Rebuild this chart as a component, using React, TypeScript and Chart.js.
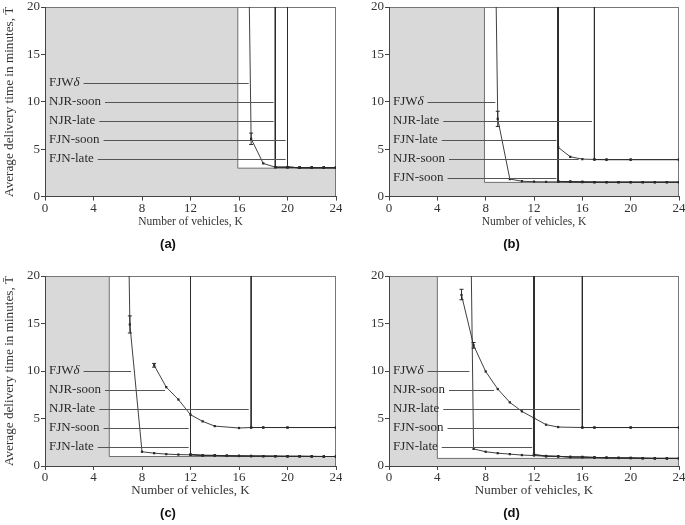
import React, { useEffect, useRef } from 'react';
import { Chart, registerables } from 'chart.js';

Chart.register(...registerables);

// Off-scale value: configuration infeasible (curve comes down from above the axis)
const INF = 100;

const xTicksMax = 24;
const yTicksMax = 20;

// ---------- Panel (a) ----------
const aFjwK = [16, 17, 18, 19, 20, 21, 22, 23, 24];
const aFjwT = [INF, 6.1, 3.5, 3.1, 3.1, 3.05, 3.05, 3.05, 3.05];
const aNjrSoonK = [19, 19, 20, 21, 22, 23, 24];
const aNjrSoonT = [INF, 3.1, 3.1, 3.05, 3.05, 3.05, 3.05];
const aNjrLateK = [19, 19, 20, 21, 22, 23, 24];
const aNjrLateT = [INF, 3.1, 3.1, 3.05, 3.05, 3.05, 3.05];
const aFjnSoonK = [20, 20, 21, 22, 23, 24];
const aFjnSoonT = [INF, 3.1, 3.05, 3.05, 3.05, 3.05];
const aFjnLateK = [20, 20, 21, 22, 23, 24];
const aFjnLateT = [INF, 3.1, 3.05, 3.05, 3.05, 3.05];
const aLabels = ['FJWδ', 'NJR-soon', 'NJR-late', 'FJN-soon', 'FJN-late'];
const aLabelT = [12, 10, 8, 6, 4];
const aLabelEnd = [16.8, 18.85, 18.85, 19.85, 19.85];
const aErrK = [17];
const aErrLo = [5.5];
const aErrHi = [6.7];

// ---------- Panel (b) ----------
const bFjwK = [8, 9, 10, 11, 12, 13, 14, 15, 16, 17, 18, 19, 20, 21, 22, 23, 24];
const bFjwT = [INF, 8.2, 1.85, 1.62, 1.57, 1.55, 1.55, 1.55, 1.53, 1.52, 1.52, 1.52, 1.52, 1.52, 1.52, 1.52, 1.52];
const bNjrSoonK = [14, 14, 15, 16, 17, 18, 20, 24];
const bNjrSoonT = [INF, 5.2, 4.2, 3.95, 3.92, 3.9, 3.9, 3.9];
const bNjrLateK = [17, 17, 18, 20, 24];
const bNjrLateT = [INF, 3.9, 3.9, 3.9, 3.9];
const bFjnSoonK = [14, 14, 15, 16, 17, 18, 19, 20, 21, 22, 23, 24];
const bFjnSoonT = [INF, 1.6, 1.57, 1.55, 1.53, 1.52, 1.52, 1.52, 1.52, 1.52, 1.52, 1.52];
const bFjnLateK = [14, 14, 15, 16, 17, 18, 19, 20, 21, 22, 23, 24];
const bFjnLateT = [INF, 1.6, 1.57, 1.55, 1.53, 1.52, 1.52, 1.52, 1.52, 1.52, 1.52, 1.52];
const bLabels = ['FJWδ', 'NJR-late', 'FJN-late', 'NJR-soon', 'FJN-soon'];
const bLabelT = [10, 8, 6, 4, 2];
const bLabelEnd = [8.8, 16.8, 13.85, 15.7, 13.85];
const bErrK = [9];
const bErrLo = [7.4];
const bErrHi = [9.0];

// ---------- Panel (c) ----------
const cFjwK = [6, 7, 8, 9, 10, 11, 12, 13, 14, 15, 16, 17, 18, 19, 20, 21, 22, 23, 24];
const cFjwT = [INF, 14.9, 1.5, 1.35, 1.25, 1.2, 1.18, 1.12, 1.1, 1.08, 1.06, 1.05, 1.04, 1.03, 1.02, 1.02, 1.01, 1.0, 1.0];
const cNjrSoonK = [9, 10, 11, 12, 13, 14, 16, 17, 18, 20, 24];
const cNjrSoonT = [10.6, 8.3, 7.0, 5.4, 4.7, 4.2, 4.0, 4.05, 4.05, 4.05, 4.05];
const cNjrLateK = [17, 17, 18, 20, 24];
const cNjrLateT = [INF, 4.05, 4.05, 4.05, 4.05];
const cFjnSoonK = [12, 12, 13, 14, 15, 16, 17, 18, 19, 20, 21, 22, 23, 24];
const cFjnSoonT = [INF, 1.2, 1.12, 1.12, 1.08, 1.06, 1.05, 1.04, 1.03, 1.02, 1.02, 1.01, 1.0, 1.0];
const cFjnLateK = [12, 12, 13, 14, 15, 16, 17, 18, 19, 20, 21, 22, 23, 24];
const cFjnLateT = [INF, 1.2, 1.12, 1.12, 1.08, 1.06, 1.05, 1.04, 1.03, 1.02, 1.02, 1.01, 1.0, 1.0];
const cLabels = ['FJWδ', 'NJR-soon', 'NJR-late', 'FJN-soon', 'FJN-late'];
const cLabelT = [10, 8, 6, 4, 2];
const cLabelEnd = [7.1, 9.9, 16.8, 11.85, 11.85];
const cErrK = [7, 9];
const cErrLo = [14.0, 10.4];
const cErrHi = [15.8, 10.8];

// ---------- Panel (d) ----------
const dFjwK = [6, 7, 8, 9, 10, 11, 12, 13, 14, 15, 16, 17, 18, 19, 20, 21, 22, 23, 24];
const dFjwT = [INF, 1.8, 1.5, 1.35, 1.25, 1.15, 1.1, 1.02, 1.0, 0.95, 0.92, 0.9, 0.87, 0.85, 0.83, 0.82, 0.81, 0.8, 0.8];
const dNjrSoonK = [6, 7, 8, 9, 10, 11, 12, 13, 14, 16, 17, 20, 24];
const dNjrSoonT = [18.0, 12.7, 9.95, 8.1, 6.7, 5.75, 5.05, 4.35, 4.1, 4.05, 4.05, 4.05, 4.05];
const dNjrLateK = [16, 16, 17, 20, 24];
const dNjrLateT = [INF, 4.05, 4.05, 4.05, 4.05];
const dFjnSoonK = [12, 12, 13, 14, 15, 16, 17, 18, 19, 20, 21, 22, 23, 24];
const dFjnSoonT = [INF, 1.2, 1.05, 1.02, 0.95, 0.95, 0.9, 0.87, 0.85, 0.85, 0.82, 0.8, 0.8, 0.8];
const dFjnLateK = [12, 12, 13, 14, 15, 16, 17, 18, 19, 20, 21, 22, 23, 24];
const dFjnLateT = [INF, 1.2, 1.05, 1.02, 0.95, 0.95, 0.9, 0.87, 0.85, 0.85, 0.82, 0.8, 0.8, 0.8];
const dLabels = ['FJWδ', 'NJR-soon', 'NJR-late', 'FJN-soon', 'FJN-late'];
const dLabelT = [10, 8, 6, 4, 2];
const dLabelEnd = [6.65, 8.7, 15.8, 11.85, 11.85];
const dErrK = [6, 7];
const dErrLo = [17.5, 12.4];
const dErrHi = [18.6, 13.0];

// Shaded (unreachable) region limits: white where K >= shadeK and T >= shadeT
const shadeK = [15.9, 7.9, 5.3, 4.0];
const shadeT = [3.0, 1.5, 1.0, 0.8];

const captions = ['(a)', '(b)', '(c)', '(d)'];
const xTitle = 'Number of vehicles, K';
const yTitle = 'Average delivery time in minutes, T̄';

const SERIF = "'Liberation Serif', 'DejaVu Serif', serif";
const INK = '#2a2a2a';

type Series = { name: string; k: number[]; t: number[] };
type Spec = {
  idx: number;
  series: Series[];
  labels: string[];
  labelT: number[];
  labelEnd: number[];
  errK: number[];
  errLo: number[];
  errHi: number[];
  showYTitle: boolean;
  left: number;
  top: number;
  width: number;
  height: number;
  bottomRow: boolean;
};

const specs: Spec[] = [
  {
    idx: 0,
    series: [
      { name: 'FJWδ', k: aFjwK, t: aFjwT },
      { name: 'NJR-soon', k: aNjrSoonK, t: aNjrSoonT },
      { name: 'NJR-late', k: aNjrLateK, t: aNjrLateT },
      { name: 'FJN-soon', k: aFjnSoonK, t: aFjnSoonT },
      { name: 'FJN-late', k: aFjnLateK, t: aFjnLateT },
    ],
    labels: aLabels, labelT: aLabelT, labelEnd: aLabelEnd,
    errK: aErrK, errLo: aErrLo, errHi: aErrHi,
    showYTitle: true, left: 0, top: 0, width: 342, height: 262, bottomRow: false,
  },
  {
    idx: 1,
    series: [
      { name: 'FJWδ', k: bFjwK, t: bFjwT },
      { name: 'NJR-soon', k: bNjrSoonK, t: bNjrSoonT },
      { name: 'NJR-late', k: bNjrLateK, t: bNjrLateT },
      { name: 'FJN-soon', k: bFjnSoonK, t: bFjnSoonT },
      { name: 'FJN-late', k: bFjnLateK, t: bFjnLateT },
    ],
    labels: bLabels, labelT: bLabelT, labelEnd: bLabelEnd,
    errK: bErrK, errLo: bErrLo, errHi: bErrHi,
    showYTitle: false, left: 344, top: 0, width: 341, height: 262, bottomRow: false,
  },
  {
    idx: 2,
    series: [
      { name: 'FJWδ', k: cFjwK, t: cFjwT },
      { name: 'NJR-soon', k: cNjrSoonK, t: cNjrSoonT },
      { name: 'NJR-late', k: cNjrLateK, t: cNjrLateT },
      { name: 'FJN-soon', k: cFjnSoonK, t: cFjnSoonT },
      { name: 'FJN-late', k: cFjnLateK, t: cFjnLateT },
    ],
    labels: cLabels, labelT: cLabelT, labelEnd: cLabelEnd,
    errK: cErrK, errLo: cErrLo, errHi: cErrHi,
    showYTitle: true, left: 0, top: 269, width: 342, height: 256, bottomRow: true,
  },
  {
    idx: 3,
    series: [
      { name: 'FJWδ', k: dFjwK, t: dFjwT },
      { name: 'NJR-soon', k: dNjrSoonK, t: dNjrSoonT },
      { name: 'NJR-late', k: dNjrLateK, t: dNjrLateT },
      { name: 'FJN-soon', k: dFjnSoonK, t: dFjnSoonT },
      { name: 'FJN-late', k: dFjnLateK, t: dFjnLateT },
    ],
    labels: dLabels, labelT: dLabelT, labelEnd: dLabelEnd,
    errK: dErrK, errLo: dErrLo, errHi: dErrHi,
    showYTitle: false, left: 344, top: 269, width: 341, height: 256, bottomRow: true,
  },
];

function Panel({ spec }: { spec: Spec }) {
  const ref = useRef<HTMLCanvasElement | null>(null);

  useEffect(() => {
    const canvas = ref.current;
    if (!canvas) return;
    const i = spec.idx;

    const decor = {
      id: 'decor',
      beforeDraw(chart: any) {
        const { ctx, chartArea: a, scales } = chart;
        const x = scales.x;
        const y = scales.y;
        ctx.save();
        ctx.fillStyle = '#d9d9d9';
        ctx.fillRect(a.left, a.top, a.right - a.left, a.bottom - a.top);
        const bx = x.getPixelForValue(shadeK[i]);
        const by = y.getPixelForValue(shadeT[i]);
        ctx.fillStyle = '#ffffff';
        ctx.fillRect(bx, a.top, a.right - bx, by - a.top);
        ctx.strokeStyle = '#6f6f6f';
        ctx.lineWidth = 1;
        ctx.beginPath();
        ctx.moveTo(bx, a.top);
        ctx.lineTo(bx, by);
        ctx.lineTo(a.right, by);
        ctx.stroke();
        // top and right frame
        ctx.strokeStyle = '#777777';
        ctx.beginPath();
        ctx.moveTo(a.left, a.top + 0.5);
        ctx.lineTo(a.right, a.top + 0.5);
        ctx.moveTo(a.right - 0.5, a.top);
        ctx.lineTo(a.right - 0.5, a.bottom);
        ctx.stroke();
        ctx.restore();
      },
      afterDatasetsDraw(chart: any) {
        const { ctx, chartArea: a, scales } = chart;
        const x = scales.x;
        const y = scales.y;
        ctx.save();
        // error bars
        ctx.strokeStyle = INK;
        ctx.lineWidth = 1;
        spec.errK.forEach((k, j) => {
          const px = x.getPixelForValue(k);
          const lo = y.getPixelForValue(spec.errLo[j]);
          const hi = y.getPixelForValue(spec.errHi[j]);
          ctx.beginPath();
          ctx.moveTo(px, lo);
          ctx.lineTo(px, hi);
          ctx.moveTo(px - 2, lo);
          ctx.lineTo(px + 2, lo);
          ctx.moveTo(px - 2, hi);
          ctx.lineTo(px + 2, hi);
          ctx.stroke();
        });
        // labels with leader lines
        ctx.textBaseline = 'middle';
        ctx.textAlign = 'left';
        spec.labels.forEach((lab, j) => {
          const py = y.getPixelForValue(spec.labelT[j]);
          let cx = a.left + 4;
          ctx.fillStyle = '#2a2a2a';
          for (const ch of Array.from(lab)) {
            const greek = /[\u0370-\u03ff]/.test(ch);
            ctx.font = (greek ? 'italic ' : '') + '13px ' + SERIF;
            ctx.fillText(ch, cx, py);
            cx += ctx.measureText(ch).width;
          }
          const ex = x.getPixelForValue(spec.labelEnd[j]);
          ctx.strokeStyle = '#555555';
          ctx.lineWidth = 1;
          ctx.beginPath();
          ctx.moveTo(cx + 4, Math.round(py) + 0.5);
          ctx.lineTo(ex, Math.round(py) + 0.5);
          ctx.stroke();
        });
        ctx.restore();
      },
    };

    const small = !spec.bottomRow;
    const chart = new Chart(canvas, {
      type: 'scatter',
      data: {
        datasets: spec.series.map((s) => ({
          label: s.name,
          data: s.k.map((k, j) => ({ x: k, y: s.t[j] })),
          showLine: true,
          borderColor: INK,
          backgroundColor: INK,
          borderWidth: 0.9,
          pointStyle: 'rect',
          pointRadius: 1.6,
          pointBorderWidth: 0,
          pointHoverRadius: 1.6,
          tension: 0,
        })),
      },
      options: {
        animation: false,
        responsive: false,
        maintainAspectRatio: false,
        events: [],
        layout: { padding: { top: 7, right: 6, left: 0, bottom: 0 } },
        plugins: {
          legend: { display: false },
          tooltip: { enabled: false },
          title: {
            display: true,
            position: 'bottom',
            text: captions[i],
            color: '#111',
            font: { family: "'Liberation Sans', Arial, sans-serif", size: 13, weight: 'bold' },
            padding: small ? { top: 7.5, bottom: 9.3 } : { top: 6.3, bottom: 4.1 },
          },
        },
        scales: {
          x: {
            type: 'linear',
            min: 0,
            max: xTicksMax,
            ticks: {
              stepSize: 4,
              padding: 0,
              color: '#333',
              font: { family: SERIF, size: 13 },
              maxRotation: 0,
            },
            grid: { display: true, drawOnChartArea: false, drawTicks: true, tickLength: 4, color: '#444' },
            border: { display: true, color: '#444' },
            title: {
              display: true,
              text: xTitle,
              color: '#333',
              font: { family: SERIF, size: small ? 11.5 : 13 },
              padding: { top: 0, bottom: small ? 1.2 : 0.2 },
            },
            afterFit(scale: any) {
              scale.height = 33;
              scale.paddingLeft = 0;
              scale.paddingRight = 0;
            },
          },
          y: {
            type: 'linear',
            min: 0,
            max: yTicksMax,
            ticks: {
              stepSize: 5,
              padding: 1,
              color: '#333',
              font: { family: SERIF, size: 13 },
            },
            grid: { display: true, drawOnChartArea: false, drawTicks: true, tickLength: 4, color: '#444' },
            border: { display: true, color: '#444' },
            title: {
              display: spec.showYTitle,
              text: yTitle,
              color: '#333',
              font: { family: SERIF, size: 13.2 },
              padding: { top: 2, bottom: 0 },
            },
            afterFit(scale: any) {
              scale.width = 45;
              scale.paddingTop = 0;
              scale.paddingBottom = 0;
            },
          },
        },
      },
      plugins: [decor],
    } as any);

    return () => {
      chart.destroy();
    };
  }, [spec]);

  return (
    <canvas
      ref={ref}
      width={spec.width}
      height={spec.height}
      style={{ position: 'absolute', left: spec.left, top: spec.top, width: spec.width, height: spec.height }}
    />
  );
}

export default function App() {
  return (
    <div style={{ position: 'absolute', left: 0, top: 0, width: 685, height: 525, background: '#fff' }}>
      {specs.map((s) => (
        <Panel key={s.idx} spec={s} />
      ))}
    </div>
  );
}
